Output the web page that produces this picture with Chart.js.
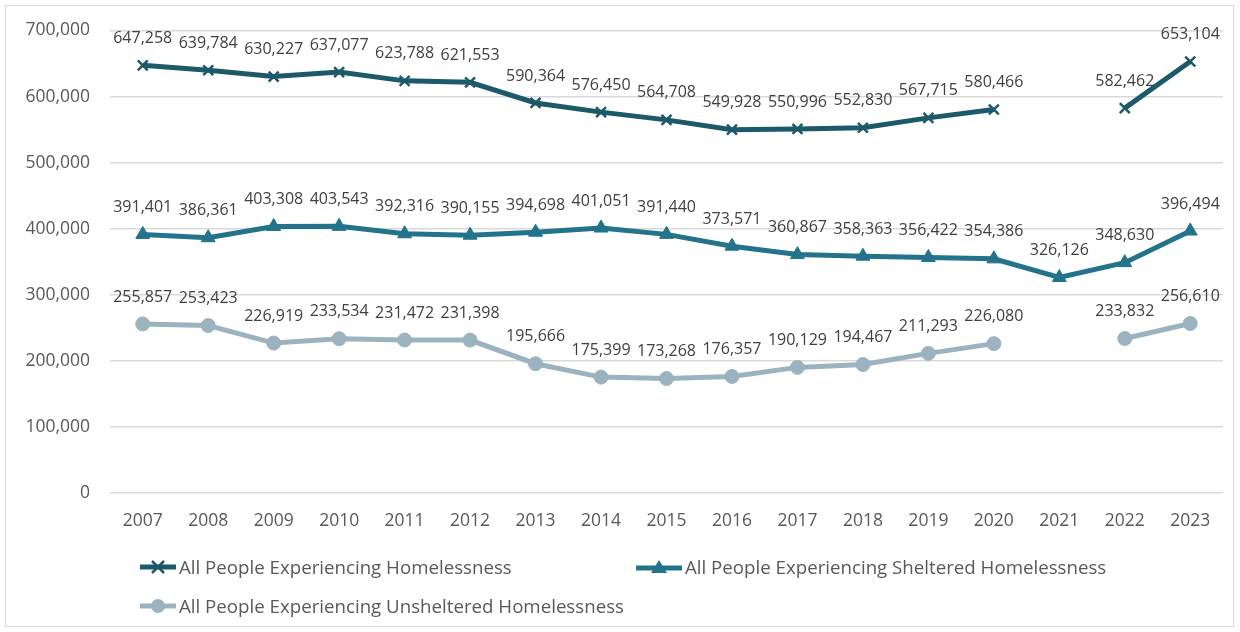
<!DOCTYPE html>
<html><head><meta charset="utf-8">
<script src="https://cdn.jsdelivr.net/npm/chart.js@4.4.0/dist/chart.umd.min.js"></script>
<style>
html,body{margin:0;padding:0;background:#fff;}
#wrap{position:relative;width:1240px;height:632px;overflow:hidden;}
#frame{position:absolute;left:5px;top:5px;width:1229px;height:622px;border:1px solid #d9d9d9;box-sizing:border-box;pointer-events:none;}
canvas{position:absolute;left:0;top:0;}
.lg{position:absolute;font-family:"Open Sans",sans-serif;font-size:18.7px;color:#595959;display:flex;align-items:center;white-space:nowrap;}
.lg svg{margin-right:3px;}
</style></head>
<body><div id="wrap"><canvas id="c" width="1240" height="632"></canvas><div id="frame"></div>
<div class="lg" style="left:140px;top:554px"><svg width="36" height="16"><line x1="0" y1="8" x2="36" y2="8" stroke="#1d5a69" stroke-width="5"/><line x1="12" y1="2" x2="24" y2="14" stroke="#1d5a69" stroke-width="2.5"/><line x1="24" y1="2" x2="12" y2="14" stroke="#1d5a69" stroke-width="2.5"/></svg><span>All People Experiencing Homelessness</span></div>
<div class="lg" style="left:636px;top:554px"><svg width="46" height="16"><line x1="0" y1="9" x2="46" y2="9" stroke="#23738b" stroke-width="5"/><polygon points="23,1 31,14 15,14" fill="#23738b"/></svg><span>All People Experiencing Sheltered Homelessness</span></div>
<div class="lg" style="left:140px;top:593px"><svg width="36" height="16"><line x1="0" y1="8" x2="36" y2="8" stroke="#9bb3bf" stroke-width="5"/><circle cx="18" cy="8" r="7" fill="#9bb3bf"/></svg><span>All People Experiencing Unsheltered Homelessness</span></div>
</div>
<script>
const years = ['2007','2008','2009','2010','2011','2012','2013','2014','2015','2016','2017','2018','2019','2020','2021','2022','2023'];
const totalValues = [647258,639784,630227,637077,623788,621553,590364,576450,564708,549928,550996,552830,567715,580466,null,582462,653104];
const shelteredValues = [391401,386361,403308,403543,392316,390155,394698,401051,391440,373571,360867,358363,356422,354386,326126,348630,396494];
const unshelteredValues = [255857,253423,226919,233534,231472,231398,195666,175399,173268,176357,190129,194467,211293,226080,null,233832,256610];
const seriesNames = ['All People Experiencing Homelessness','All People Experiencing Sheltered Homelessness','All People Experiencing Unsheltered Homelessness'];
const yTicks = [0,100000,200000,300000,400000,500000,600000,700000];

const fmt = v => v.toLocaleString('en-US');
const labelPlugin = {
  id:'dl',
  afterDatasetsDraw(chart){
    const ctx = chart.ctx;
    ctx.save();
    ctx.font = '16px "Open Sans", sans-serif';
    ctx.fillStyle = '#404040';
    ctx.textAlign = 'center';
    ctx.textBaseline = 'middle';
    chart.data.datasets.forEach((ds,i)=>{
      const meta = chart.getDatasetMeta(i);
      meta.data.forEach((pt,j)=>{
        const v = ds.data[j];
        if (v === null) return;
        ctx.fillText(fmt(v), pt.x, pt.y - 27);
      });
    });
    ctx.restore();
  }
};

new Chart(document.getElementById('c'), {
  type:'line',
  data:{
    labels: years,
    datasets:[
      {label:seriesNames[0], data:totalValues, borderColor:'#1d5a69', backgroundColor:'#1d5a69', borderWidth:5, pointStyle:'crossRot', pointRadius:7, pointBorderWidth:2.5, pointBorderColor:'#1d5a69', spanGaps:false, tension:0},
      {label:seriesNames[1], data:shelteredValues, borderColor:'#23738b', backgroundColor:'#23738b', borderWidth:5, pointStyle:'triangle', pointRadius:8, pointBorderWidth:1, spanGaps:false, tension:0},
      {label:seriesNames[2], data:unshelteredValues, borderColor:'#9bb3bf', backgroundColor:'#9bb3bf', borderWidth:5, pointStyle:'circle', pointRadius:7, pointBorderWidth:1, spanGaps:false, tension:0}
    ]
  },
  options:{
    responsive:false, animation:false,
    layout:{padding:{left:0,right:17,top:30,bottom:0}},
    plugins:{legend:{display:false}, tooltip:{enabled:false}},
    scales:{
      x:{
        offset:true,
        grid:{display:false, drawTicks:false},
        border:{display:false},
        ticks:{padding:18, color:'#595959', font:{family:'"Open Sans", sans-serif', size:17.5}, maxRotation:0, autoSkip:false},
        afterFit(s){ s.height = 139; }
      },
      y:{
        min:0, max:700000,
        afterBuildTicks(s){ s.ticks = yTicks.map(v=>({value:v})); },
        grid:{color:'#d9d9d9', lineWidth:1.5, drawTicks:false},
        border:{display:false},
        ticks:{padding:20, color:'#595959', font:{family:'"Open Sans", sans-serif', size:17.5}, callback:v=>fmt(v)},
        afterFit(s){ s.width = 110; }
      }
    }
  },
  plugins:[labelPlugin]
});
</script></body></html>
